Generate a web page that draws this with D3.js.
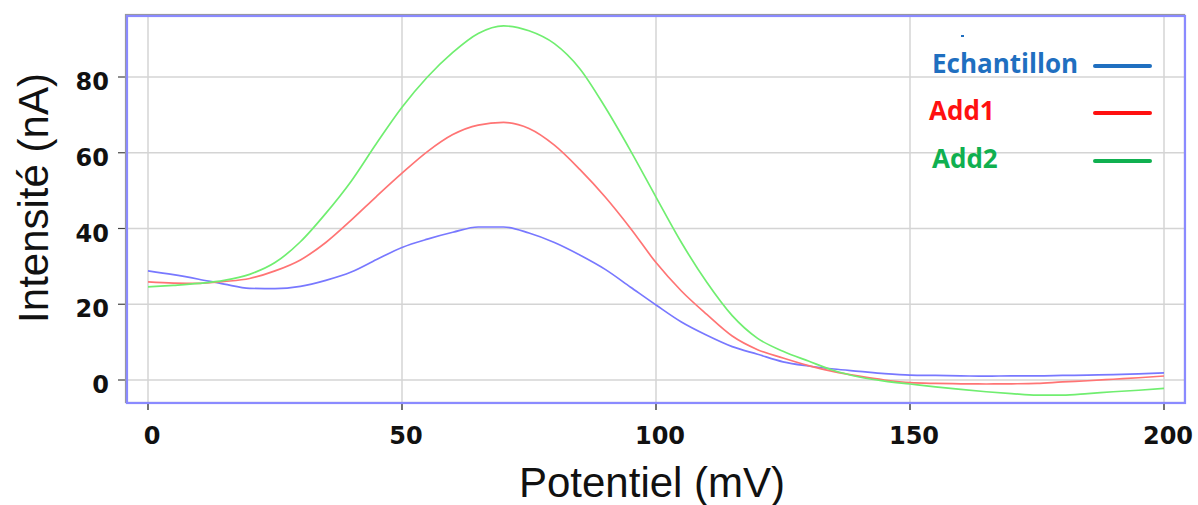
<!DOCTYPE html>
<meta charset="utf-8">
<html>
<head>
<style>
  body { margin: 0; background: #fff; }
  .tick-label { font-family: "DejaVu Sans", sans-serif; font-weight: bold; font-size: 24px; fill: #111; }
  .axis-title { font-family: "Liberation Sans", Arial, sans-serif; font-size: 42px; fill: #111; }
  .legend-label { font-family: "Open Sans", sans-serif; font-weight: bold; font-size: 26px; }
</style>
<script src="https://d3js.org/d3.v7.min.js"></script>
</head>
<body>
<div id="chart"></div>
<script>
// potential (mV), every 5 mV
var potentiel = d3.range(0, 201, 5);

var echantillon = [28.8, 27.8, 26.6, 25.3, 24.2, 24.1, 24.7, 26.3, 28.5, 31.8, 35.0,
  37.2, 39.0, 40.4, 40.4, 38.8, 36.3, 33.0, 29.2, 24.5, 19.8,
  15.3, 11.8, 8.8, 6.8, 4.8, 3.7, 2.9, 2.3, 1.7, 1.3,
  1.2, 1.1, 1.0, 1.1, 1.1, 1.2, 1.3, 1.4, 1.6, 1.9];

var add1 = [25.9, 25.6, 25.5, 26.0, 26.8, 28.8, 31.7, 36.3, 42.2, 48.5, 54.6,
  60.3, 64.8, 67.3, 68.0, 66.4, 62.0, 55.6, 48.3, 40.0, 31.0,
  23.5, 17.3, 11.6, 8.0, 5.8, 3.8, 2.2, 1.0, 0.0, -0.7,
  -0.9, -1.0, -1.05, -1.0, -0.9, -0.5, -0.2, 0.2, 0.6, 1.05];

var add2 = [24.6, 25.0, 25.5, 26.3, 27.9, 31.0, 36.5, 44.0, 52.5, 62.5, 72.0,
  80.0, 86.5, 91.5, 93.5, 92.2, 88.8, 82.2, 72.0, 60.5, 48.3,
  36.3, 25.8, 17.0, 11.0, 7.6, 5.0, 2.5, 0.8, -0.3, -1.05,
  -1.8, -2.5, -3.1, -3.6, -4.0, -4.0, -3.6, -3.1, -2.7, -2.2];

var xTicks = [0, 50, 100, 150, 200];
var yTicks = [0, 20, 40, 60, 80];

var seriesNames = ["Echantillon", "Add1", "Add2"];
var lineColors = ["#7878ff", "#ff7474", "#70ee70"];
var legendColors = ["#1f6fc0", "#ff1010", "#10b050"];

var width = 1198, height = 505;
var frame = {left: 127, top: 16, right: 1185, bottom: 403};

var svg = d3.select("#chart").append("svg")
  .attr("width", width)
  .attr("height", height);

var x = d3.scaleLinear().domain([0, 200]).range([148, 1164]);
var y = d3.scaleLinear().domain([0, 80]).range([380, 77]);

// gridlines
svg.append("g").selectAll("line")
  .data(xTicks).enter().append("line")
  .attr("x1", d => x(d)).attr("x2", d => x(d))
  .attr("y1", frame.top).attr("y2", frame.bottom)
  .attr("stroke", "#d4d4d4").attr("stroke-width", 1.5);
svg.append("g").selectAll("line")
  .data(yTicks).enter().append("line")
  .attr("x1", frame.left).attr("x2", frame.right)
  .attr("y1", d => y(d)).attr("y2", d => y(d))
  .attr("stroke", "#d4d4d4").attr("stroke-width", 1.5);

// tick marks
svg.append("g").selectAll("line")
  .data(yTicks).enter().append("line")
  .attr("x1", frame.left - 9).attr("x2", frame.left)
  .attr("y1", d => y(d)).attr("y2", d => y(d))
  .attr("stroke", "#444").attr("stroke-width", 1.2);
svg.append("g").selectAll("line")
  .data(xTicks).enter().append("line")
  .attr("x1", d => x(d)).attr("x2", d => x(d))
  .attr("y1", frame.bottom).attr("y2", frame.bottom + 7)
  .attr("stroke", "#444").attr("stroke-width", 1.5);

// tick labels
svg.append("g").selectAll("text")
  .data(yTicks).enter().append("text")
  .attr("class", "tick-label")
  .attr("x", 109).attr("y", d => y(d) + 13)
  .attr("text-anchor", "end")
  .text(d => d);
svg.append("g").selectAll("text")
  .data(xTicks).enter().append("text")
  .attr("class", "tick-label")
  .attr("x", d => x(d) + 4).attr("y", 444)
  .attr("text-anchor", "middle")
  .text(d => d);

// curves
var line = d3.line()
  .x((d, i) => x(potentiel[i]))
  .y(d => y(d))
  .curve(d3.curveMonotoneX);

[echantillon, add1, add2].forEach(function(s, i) {
  svg.append("path")
    .attr("d", line(s))
    .attr("fill", "none")
    .attr("stroke", lineColors[i])
    .attr("stroke-width", 1.7);
});

// frame
svg.append("rect")
  .attr("x", frame.left - 1.5).attr("y", frame.top - 1.5)
  .attr("width", frame.right - frame.left + 1).attr("height", frame.bottom - frame.top + 1)
  .attr("fill", "none").attr("stroke", "#999").attr("stroke-width", 1.2);
svg.append("rect")
  .attr("x", frame.left).attr("y", frame.top)
  .attr("width", frame.right - frame.left).attr("height", frame.bottom - frame.top)
  .attr("fill", "none").attr("stroke", "#8a8aff").attr("stroke-width", 2.2);

// legend
var legendY = [73, 120, 168];
var legendX = [932, 929, 932];
seriesNames.forEach(function(name, i) {
  svg.append("text")
    .attr("class", "legend-label")
    .attr("x", legendX[i]).attr("y", legendY[i])
    .attr("fill", legendColors[i])
    .text(name);
  svg.append("line")
    .attr("x1", 1095).attr("x2", 1150)
    .attr("y1", legendY[i] - 7).attr("y2", legendY[i] - 7)
    .attr("stroke", legendColors[i])
    .attr("stroke-width", 4)
    .attr("stroke-linecap", "round");
});
svg.append("rect")
  .attr("x", 961).attr("y", 35).attr("width", 3).attr("height", 2)
  .attr("fill", "#1f6fc0");

// axis titles
svg.append("text")
  .attr("class", "axis-title")
  .attr("transform", "translate(48,198) rotate(-90)")
  .attr("text-anchor", "middle")
  .text("Intensité (nA)");
svg.append("text")
  .attr("class", "axis-title")
  .attr("x", 652).attr("y", 497)
  .attr("text-anchor", "middle")
  .text("Potentiel (mV)");
</script>
</body>
</html>
